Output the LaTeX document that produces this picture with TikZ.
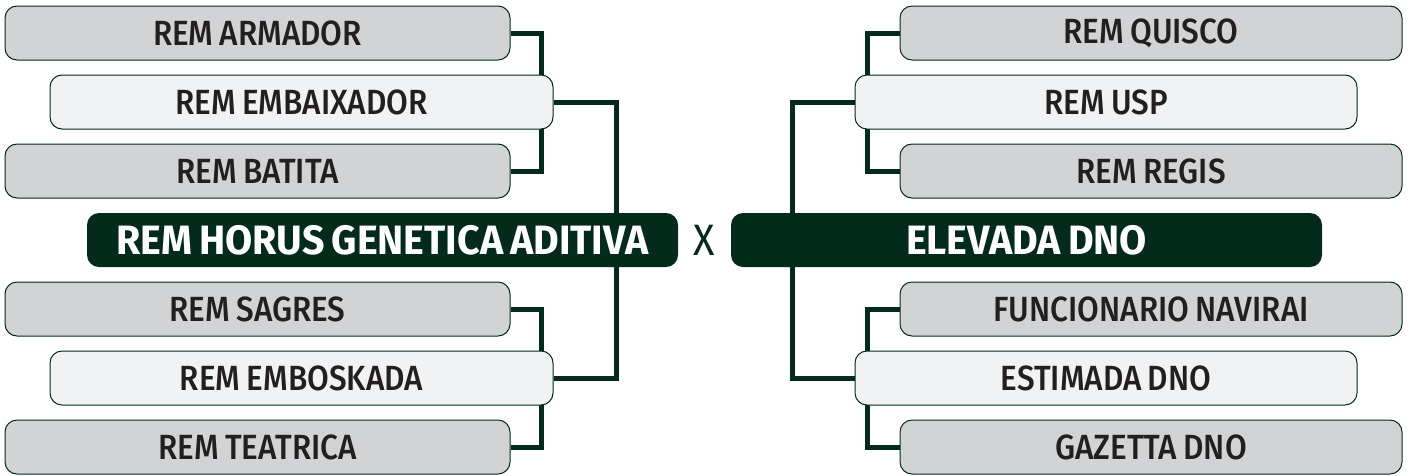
\documentclass[tikz,border=0pt]{standalone}
\usepackage{fontspec}
\setmainfont{Fira Sans}
\newfontfamily\boxfont{Fira Sans Medium}[FakeStretch=0.9,WordSpace=0.8]
\newfontfamily\headfont{Fira Sans Bold}[FakeStretch=0.96,WordSpace=0.75]
\newfontfamily\vsfont{Fira Sans}[FakeStretch=0.9]
\usetikzlibrary{backgrounds}
\definecolor{dkgreen}{HTML}{032A1B}
\definecolor{boxgray}{HTML}{D1D3D4}
\definecolor{boxlight}{HTML}{F1F2F3}
\definecolor{txt}{HTML}{231F20}
\tikzset{
  team/.style={draw=dkgreen, line width=1pt, rounded corners=12pt, inner sep=0pt,
    minimum height=54pt, text=txt, font=\boxfont\fontsize{35}{40}\selectfont},
  outer/.style={team, fill=boxgray, minimum width=505pt},
  inner/.style={team, fill=boxlight, minimum width=503pt},
  head/.style={fill=dkgreen, rounded corners=12pt, inner sep=0pt, minimum height=54pt,
    minimum width=591pt, text=white, font=\headfont\fontsize{41}{46}\selectfont},
  link/.style={draw=dkgreen, line width=5pt}
}
\begin{document}
\begin{tikzpicture}[x=1pt,y=-1pt]
\useasboundingbox (0,0) rectangle (1410,475);
% left
\node[outer] (arm) at (257.5,33) {REM ARMADOR};
\node[inner] (emb) at (301.5,102) {REM EMBAIXADOR};
\node[outer] (bat) at (257.5,171) {REM BATITA};
\node[head] (hor) at (382.5,240) {REM HORUS GENETICA ADITIVA};
\node[outer] (sag) at (257.5,309) {REM SAGRES};
\node[inner] (embo) at (301.5,378) {REM EMBOSKADA};
\node[outer] (tea) at (257.5,447) {REM TEATRICA};
% vs
\node[text=dkgreen, font=\vsfont\fontsize{44}{48}\selectfont, inner sep=0pt] (vs) at (704.5,240) {X};
% right
\node[outer, minimum width=502pt] (qui) at (1151,33) {REM QUISCO};
\node[inner, minimum width=502pt] (usp) at (1106,102) {REM USP};
\node[outer, minimum width=502pt] (reg) at (1151,171) {REM REGIS};
\node[head] (ele) at (1026.5,240) {ELEVADA DNO};
\node[outer, minimum width=502pt] (fun) at (1151,309) {FUNCIONARIO NAVIRAI};
\node[inner, minimum width=502pt] (est) at (1106,378) {ESTIMADA DNO};
\node[outer, minimum width=502pt] (gaz) at (1151,447) {GAZETTA DNO};
\begin{scope}[on background layer]
\draw[link] (arm.east) -- ++(31,0) |- (bat.east);
\draw[link] (emb.east) -| ([xshift=-62pt]hor.north east);
\draw[link] ([xshift=-62pt]hor.south east) |- (embo.east);
\draw[link] (sag.east) -- ++(31,0) |- (tea.east);
\draw[link] (qui.west) -- ++(-32,0) |- (reg.west);
\draw[link] (usp.west) -| ([xshift=62pt]ele.north west);
\draw[link] ([xshift=62pt]ele.south west) |- (est.west);
\draw[link] (fun.west) -- ++(-32,0) |- (gaz.west);
\end{scope}
\end{tikzpicture}
\end{document}
